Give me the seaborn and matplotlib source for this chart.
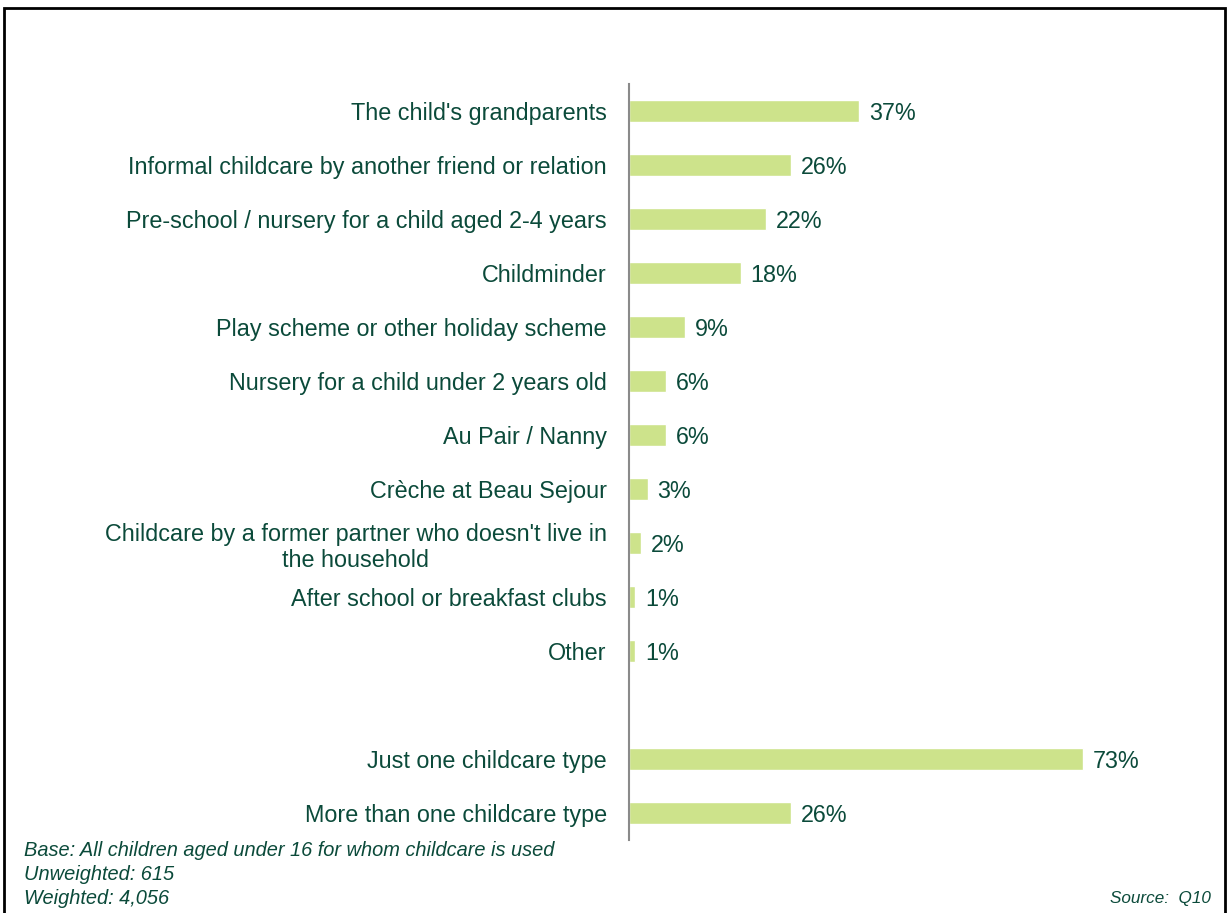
import matplotlib
matplotlib.use("Agg")
import matplotlib.pyplot as plt
from matplotlib.patches import Rectangle
import numpy as np
import pandas as pd
import seaborn as sns

# Childcare types used (percent of children), blank row separates the summary rows
categories = [
    "The child's grandparents",
    "Informal childcare by another friend or relation",
    "Pre-school / nursery for a child aged 2-4 years",
    "Childminder",
    "Play scheme or other holiday scheme",
    "Nursery for a child under 2 years old",
    "Au Pair / Nanny",
    "Crèche at Beau Sejour",
    "Childcare by a former partner who doesn't live in\nthe household",
    "After school or breakfast clubs",
    "Other",
    " ",
    "Just one childcare type",
    "More than one childcare type",
]
values = [37, 26, 22, 18, 9, 6, 6, 3, 2, 1, 1, np.nan, 73, 26]
value_labels = ["37%", "26%", "22%", "18%", "9%", "6%", "6%", "3%", "2%", "1%", "1%", "", "73%", "26%"]

footnotes = [
    "Base: All children aged under 16 for whom childcare is used",
    "Unweighted: 615",
    "Weighted: 4,056",
]
source_note = "Source:  Q10"

BAR = "#cde38b"
TEXT = "#0b4a3a"

sns.set_theme(style="white")
plt.rcParams["font.family"] = ["Liberation Sans", "DejaVu Sans"]

df = pd.DataFrame({"category": categories, "value": values})

fig = plt.figure(figsize=(12.29, 9.13), dpi=100)
ax = fig.add_axes([629 / 1229, (913 - 840) / 913, (1200 - 629) / 1229, (840 - 84) / 913])

sns.barplot(data=df, x="value", y="category", order=categories, color=BAR,
            saturation=1, width=0.4, orient="h", ax=ax, errorbar=None)

ax.set_xlim(0, (1200 - 629) / 6.22)
ax.set_ylim(len(categories) - 0.5, -0.5)
ax.set_xlabel("")
ax.set_ylabel("")
ax.set_xticks([])
for side in ["top", "right", "bottom"]:
    ax.spines[side].set_visible(False)
ax.spines["left"].set_color("#8a8a8a")
ax.spines["left"].set_linewidth(1.5)
ax.tick_params(axis="y", length=0, pad=16, labelsize=16.8, labelcolor=TEXT)
for lbl in ax.get_yticklabels():
    lbl.set_multialignment("center")

for i, (v, t) in enumerate(zip(values, value_labels)):
    if t:
        ax.annotate(t, xy=(v, i), xytext=(7, -1.5), textcoords="offset points",
                    ha="left", va="center", fontsize=16.8, color=TEXT)

for k, line in enumerate(footnotes):
    fig.text(24 / 1229, 1 - (850 + 24 * k) / 913, line, ha="left", va="center",
             fontsize=14.4, style="italic", color=TEXT)
fig.text(1211 / 1229, 1 - 898 / 913, source_note, ha="right", va="center",
         fontsize=12.3, style="italic", color=TEXT)

# outer frame around the slide
fig.patches.append(Rectangle((4 / 1229, -0.01), (1225 - 4) / 1229, 1.01 - 8 / 913,
                             transform=fig.transFigure, fill=False,
                             edgecolor="black", linewidth=2, clip_on=False))

fig.savefig("out.png", dpi=100)
